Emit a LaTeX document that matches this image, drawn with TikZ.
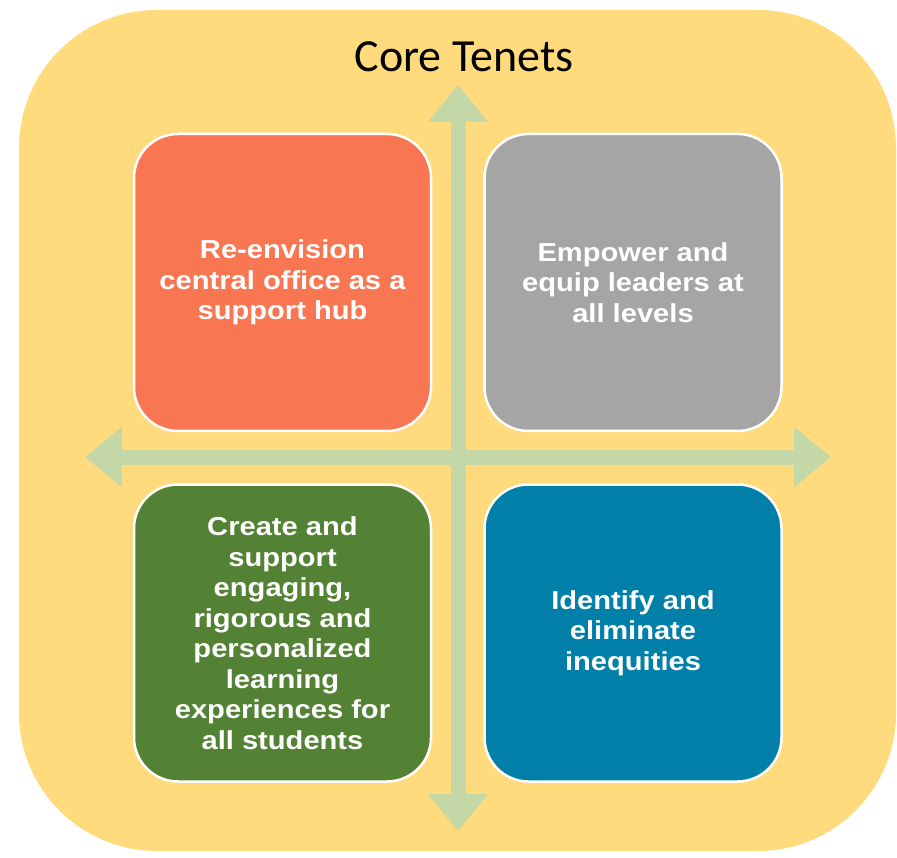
\documentclass[tikz,border=0pt]{standalone}
\usepackage{fontspec}
\setmainfont{Liberation Sans}
\newfontfamily\titlefont{Carlito}
\newfontfamily\tenetfont{Liberation Sans}[FakeStretch=1.12]
\usepackage{tikz}
\usetikzlibrary{positioning, arrows.meta}
\usepackage{xcolor}
\definecolor{panelyellow}{HTML}{FFDB7D}
\definecolor{hubred}{HTML}{F87752}
\definecolor{leadgray}{HTML}{A5A5A5}
\definecolor{learngreen}{HTML}{548235}
\definecolor{equityblue}{HTML}{007FA9}
\definecolor{axisgreen}{HTML}{C3D8A6}
\tikzset{axisarrow/.style={line width=15pt, draw=axisgreen, {Triangle[width=58pt,length=37pt]}-{Triangle[width=58pt,length=37pt]}}}

\begin{document}
\begin{tikzpicture}[
    x=1pt, y=-1pt,
    tenet/.style={draw=white, line width=2.5pt, rounded corners=44pt, minimum width=297pt, minimum height=297pt, inner sep=0pt,
      text=white, align=center, font=\tenetfont\bfseries\fontsize{26}{30.5}\selectfont}
  ]

  \useasboundingbox (0,0) rectangle (897,858);
  \fill[panelyellow, rounded corners=138pt] (19,10) rectangle (896,851);

  \node[font=\titlefont\fontsize{46}{55}\selectfont, anchor=base] (title) at (464,72) {Core Tenets};

  % cross of arrows
  \coordinate (north) at (458,85);
  \coordinate (south) at (458,831);
  \coordinate (west) at (85,457);
  \coordinate (east) at (831,457);
  \draw[axisarrow] (south) -- (north);
  \draw[axisarrow] (west) -- (east);

  \node[tenet, fill=hubred] (hub) at (282.5,282.5) {Re-envision\\central office as a\\support hub};
  \node[tenet, fill=leadgray, right=51pt of hub] (lead) {Empower and\\equip leaders at\\all levels};
  \node[tenet, fill=learngreen, below=51pt of hub] (learn) {Create and\\support\\engaging,\\rigorous and\\personalized\\learning\\experiences for\\all students};
  \node[tenet, fill=equityblue, below=51pt of lead] (equity) {Identify and\\eliminate\\inequities};

\end{tikzpicture}
\end{document}
